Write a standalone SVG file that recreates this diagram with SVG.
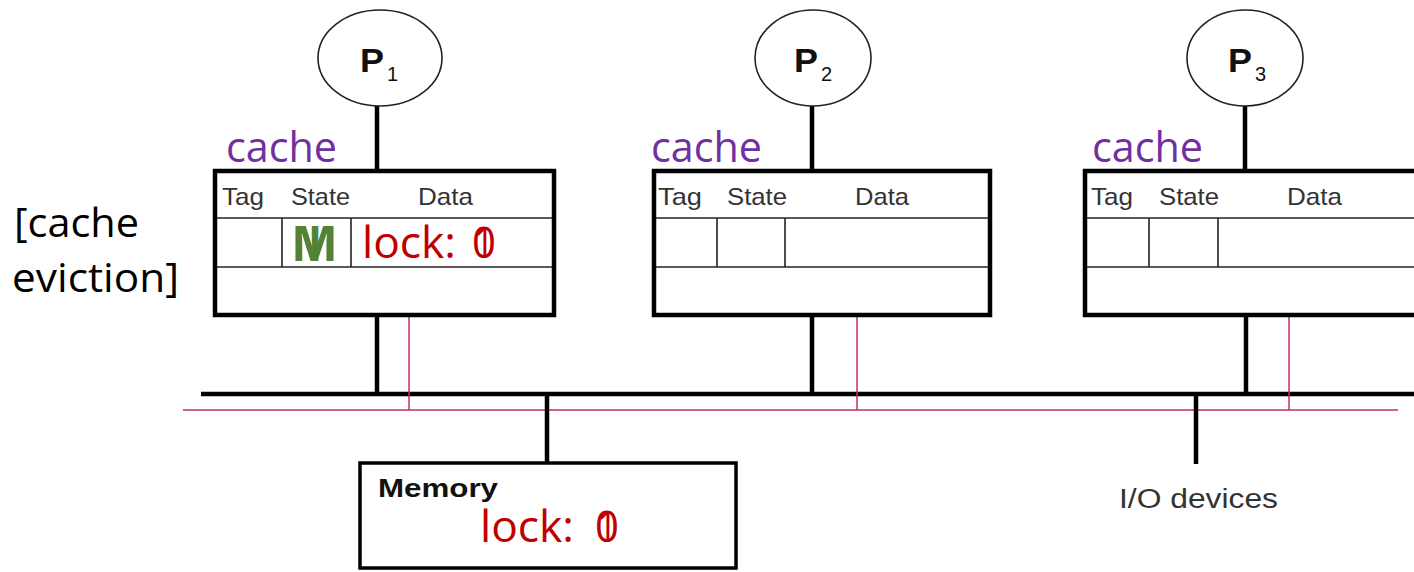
<svg xmlns="http://www.w3.org/2000/svg" width="1414" height="572" viewBox="0 0 1414 572">
<style>
.proc{fill:#fff;stroke:#222;stroke-width:1.6}
.box{fill:#fff;stroke:#000;stroke-width:4.5}
.div{stroke:#222;stroke-width:1.6;fill:none}
.blk{stroke:#000;stroke-width:4.5;fill:none}
.red{stroke:#c0305a;stroke-width:1.5;fill:none}
.hdr{font-family:"Liberation Sans",Arial,sans-serif;font-size:24px;fill:#333}
.pl{font-family:"Liberation Sans",Arial,sans-serif;font-weight:bold;font-size:34px;fill:#111}
.ps{font-family:"Liberation Sans",Arial,sans-serif;font-size:20px;fill:#111}
.cache{font-family:"Open Sans","Noto Sans",sans-serif;font-size:42px;fill:#7030a0}
.lock{font-family:"Open Sans","Noto Sans",sans-serif;font-size:44px;fill:#c00000}
.note{font-family:"Open Sans","Noto Sans",sans-serif;font-size:40px;fill:#000}
.st{font-family:"Open Sans","Noto Sans",sans-serif;font-weight:bold;font-size:48px;fill:#548235}
</style>
<g id="connectors">
<line class="blk" x1="201" y1="394" x2="1414" y2="394"/>
<line class="red" x1="183" y1="410" x2="1398" y2="410"/>
<line class="blk" x1="377" y1="106" x2="377" y2="170"/>
<line class="blk" x1="812" y1="106" x2="812" y2="170"/>
<line class="blk" x1="1245" y1="106" x2="1245" y2="170"/>
<line class="blk" x1="377" y1="317" x2="377" y2="394"/>
<line class="red" x1="409" y1="317" x2="409" y2="410"/>
<line class="blk" x1="812" y1="317" x2="812" y2="394"/>
<line class="red" x1="857" y1="317" x2="857" y2="410"/>
<line class="blk" x1="1246" y1="317" x2="1246" y2="394"/>
<line class="red" x1="1289" y1="317" x2="1289" y2="410"/>
<line class="blk" x1="547" y1="394" x2="547" y2="463"/>
<line class="blk" x1="1196" y1="394" x2="1196" y2="464"/>
</g>
<g id="p1">
<ellipse class="proc" cx="380" cy="58" rx="62" ry="48"/>
<text class="pl" x="360" y="72" textLength="24" lengthAdjust="spacingAndGlyphs">P</text><text class="ps" x="387" y="81">1</text>
</g>
<g id="p2">
<ellipse class="proc" cx="813" cy="58" rx="58" ry="48"/>
<text class="pl" x="794" y="72" textLength="24" lengthAdjust="spacingAndGlyphs">P</text><text class="ps" x="821" y="81">2</text>
</g>
<g id="p3">
<ellipse class="proc" cx="1245" cy="58" rx="58" ry="48"/>
<text class="pl" x="1228" y="72" textLength="24" lengthAdjust="spacingAndGlyphs">P</text><text class="ps" x="1255" y="81">3</text>
</g>
<g id="cache1">
<text class="cache" x="226" y="162" textLength="111" lengthAdjust="spacingAndGlyphs">cache</text>
<rect class="box" x="215" y="171" width="339" height="144"/>
<line class="div" x1="217" y1="218" x2="552" y2="218"/>
<line class="div" x1="217" y1="267" x2="552" y2="267"/>
<line class="div" x1="282" y1="218" x2="282" y2="267"/>
<line class="div" x1="351" y1="218" x2="351" y2="267"/>
<text class="hdr" x="222" y="205" textLength="42" lengthAdjust="spacingAndGlyphs">Tag</text>
<text class="hdr" x="291" y="205" textLength="59" lengthAdjust="spacingAndGlyphs">State</text>
<text class="hdr" x="418" y="205" textLength="55" lengthAdjust="spacingAndGlyphs">Data</text>
<text class="st" x="291" y="261" textLength="47" lengthAdjust="spacingAndGlyphs">M</text>
<text class="st" x="308" y="261" textLength="14" lengthAdjust="spacingAndGlyphs">I</text>
<text class="lock" x="362" y="258" textLength="94" lengthAdjust="spacingAndGlyphs">lock:</text>
<text class="lock" x="472" y="258" textLength="24" lengthAdjust="spacingAndGlyphs">0</text>
<text class="lock" x="474" y="258" textLength="20" lengthAdjust="spacingAndGlyphs">1</text>
</g>
<g id="cache2">
<text class="cache" x="651" y="162" textLength="111" lengthAdjust="spacingAndGlyphs">cache</text>
<rect class="box" x="654" y="171" width="336" height="144"/>
<line class="div" x1="656" y1="218" x2="988" y2="218"/>
<line class="div" x1="656" y1="267" x2="988" y2="267"/>
<line class="div" x1="717" y1="218" x2="717" y2="267"/>
<line class="div" x1="785" y1="218" x2="785" y2="267"/>
<text class="hdr" x="658" y="205" textLength="44" lengthAdjust="spacingAndGlyphs">Tag</text>
<text class="hdr" x="727" y="205" textLength="60" lengthAdjust="spacingAndGlyphs">State</text>
<text class="hdr" x="855" y="205" textLength="54" lengthAdjust="spacingAndGlyphs">Data</text>
</g>
<g id="cache3">
<text class="cache" x="1092" y="162" textLength="111" lengthAdjust="spacingAndGlyphs">cache</text>
<rect class="box" x="1085" y="171" width="340" height="144"/>
<line class="div" x1="1087" y1="218" x2="1414" y2="218"/>
<line class="div" x1="1087" y1="267" x2="1414" y2="267"/>
<line class="div" x1="1149" y1="218" x2="1149" y2="267"/>
<line class="div" x1="1218" y1="218" x2="1218" y2="267"/>
<text class="hdr" x="1091" y="205" textLength="42" lengthAdjust="spacingAndGlyphs">Tag</text>
<text class="hdr" x="1159" y="205" textLength="60" lengthAdjust="spacingAndGlyphs">State</text>
<text class="hdr" x="1287" y="205" textLength="55" lengthAdjust="spacingAndGlyphs">Data</text>
</g>
<g id="memory">
<rect x="360" y="463" width="376" height="105" fill="#fff" stroke="#000" stroke-width="3.5"/>
<text x="378" y="497" font-family="Liberation Sans,Arial,sans-serif" font-weight="bold" font-size="25" fill="#111" textLength="120" lengthAdjust="spacingAndGlyphs">Memory</text>
<text class="lock" x="480" y="542" textLength="94" lengthAdjust="spacingAndGlyphs">lock:</text>
<text class="lock" x="595" y="542" textLength="24" lengthAdjust="spacingAndGlyphs">0</text>
<text class="lock" x="597" y="542" textLength="20" lengthAdjust="spacingAndGlyphs">1</text>
</g>
<g id="io">
<text x="1119" y="508" font-family="Liberation Sans,Arial,sans-serif" font-size="27" fill="#333" textLength="159" lengthAdjust="spacingAndGlyphs">I/O devices</text>
</g>
<g id="note">
<text class="note" x="14" y="237" textLength="125" lengthAdjust="spacingAndGlyphs">[cache</text>
<text class="note" x="12" y="292" textLength="167" lengthAdjust="spacingAndGlyphs">eviction]</text>
</g>
</svg>
